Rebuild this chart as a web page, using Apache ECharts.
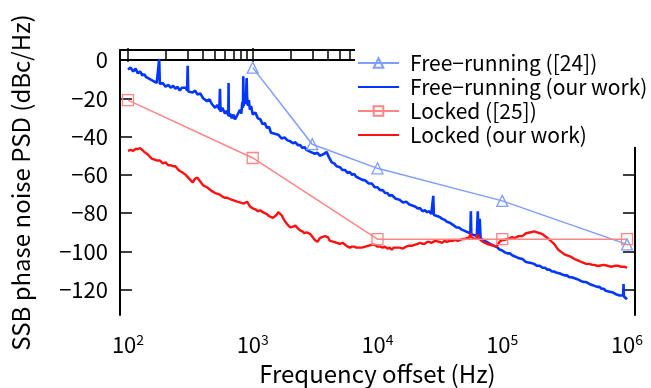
<!DOCTYPE html>
<html>
<head>
<meta charset="utf-8">
<script src="https://cdn.jsdelivr.net/npm/echarts@6/dist/echarts.min.js"></script>
<style>
  html, body { margin: 0; padding: 0; background: #fff; }
  #chart { width: 651px; height: 388px; }
</style>
</head>
<body>
<div id="chart"></div>
<script>
// tick positions
const decadeTicks = [100, 1000, 10000, 100000, 1000000]
const minorTicks = [
  200, 300, 400, 500, 600, 700, 800, 900,
  2000, 3000, 4000, 5000, 6000, 7000, 8000, 9000,
  20000, 30000, 40000, 50000, 60000, 70000, 80000, 90000,
  200000, 300000, 400000, 500000, 600000, 700000, 800000, 900000
]
const yTicks = [-120, -100, -80, -60, -40, -20, 0]

const seriesNames = ['Free\u2212running ([24])', 'Free\u2212running (our work)', 'Locked ([25])', 'Locked (our work)']

// [offset Hz, dBc/Hz]
const freeRunRef = [[1000, -4], [3000, -44], [10000, -56.6], [100000, -73.6], [1000000, -96.3]]
const lockedRef = [[100, -21], [1000, -51.2], [10000, -93.6], [100000, -93.6], [1000000, -93.6]]

const freeRunOurs = [
  [100,-5],[105,-4],[110,-6],[115,-4.5],[120,-7],[125,-6],[130,-8],[135,-7.5],[140,-9],[145,-8],[150,-10],[155,-9.5],
  [160,-11],[165,-10.5],[170,-12],[176,-11.5],[178,0.5],[180,-12.5],[190,-12],[200,-14],[210,-13],[220,-14.5],[230,-13.5],
  [240,-15],[250,-14],[260,-16],[270,-14.5],[280,-15.5],[290,-14.5],[298,-16],[301,-3],[304,-16.5],[315,-15.5],[330,-17],
  [345,-16],[360,-18],[380,-17.5],[400,-20],[415,-19],[430,-21.5],[450,-20.5],[470,-23],[485,-22],[500,-25],[520,-23.5],
  [540,-26],[546,-15],[552,-27],[570,-25],[600,-28],[620,-26.5],[637,-29],[640,-12],[643,-29.5],[660,-28],[680,-30.5],
  [700,-28.5],[720,-31],[750,-29],[770,-30],[790,-26],[810,-28],[825,-22],[835,-25],[840,-8.5],[845,-24],[860,-20],
  [875,-23],[885,-17],[894,-9.5],[900,-19],[915,-24],[930,-21],[950,-26],[970,-24],[1000,-28.5],[1050,-27.5],[1100,-30.5],
  [1150,-31],[1200,-33.5],[1250,-33],[1300,-35.5],[1350,-35],[1400,-38],[1450,-37],[1500,-38.5],[1550,-39.5],[1600,-39],
  [1700,-41],[1800,-40.5],[1900,-42],[2000,-42.5],[2100,-43.5],[2200,-43],[2300,-44.5],[2400,-44.5],[2500,-46],[2600,-45.5],
  [2700,-47],[2800,-46.5],[2900,-48],[3000,-47.5],[3150,-49],[3300,-48.5],[3450,-50],[3600,-49.5],[3750,-49],[3900,-48],
  [4000,-48.5],[4100,-51],[4300,-53.5],[4500,-54],[4700,-55.5],[5000,-56],[5250,-57.5],[5500,-57.5],[5750,-59],[6000,-58.5],
  [6250,-60],[6500,-59.5],[6750,-61],[7000,-60.5],[7500,-62.5],[8000,-63],[8500,-64.5],[9000,-64.5],[9500,-66.5],[10000,-66.5],
  [10500,-68],[11000,-68],[11500,-69.5],[12000,-69.5],[12500,-71],[13000,-70.5],[14000,-72.5],[15000,-73],[16000,-74.5],
  [17000,-74],[18000,-75.5],[19000,-76],[20000,-76.5],[21000,-77.5],[22000,-77.5],[23000,-79],[24000,-78.5],[25000,-79.5],
  [26000,-79],[27000,-80.5],[27700,-80],[28000,-71],[28300,-81],[29000,-80.5],[30000,-81.5],[31500,-82],[33000,-83],
  [34500,-83.5],[36000,-84.5],[38000,-85],[40000,-86],[41500,-86.5],[43000,-87.5],[45000,-87.5],[47000,-88.5],[49000,-89],
  [51000,-89.5],[53000,-90],[55500,-90.5],[56000,-79],[56500,-91],[58000,-90.5],[60000,-91.5],[62500,-92],[63700,-79],
  [64500,-92],[66000,-83],[67000,-93],[68500,-93],[70000,-94],[72500,-94.5],[75000,-95],[77500,-95.5],[80000,-96],
  [82500,-96.5],[85000,-97],[87500,-97],[90000,-97.5],[95000,-99],[100000,-99.5],[105000,-100.5],[110000,-101],[115000,-101],
  [120000,-102],[125000,-102.5],[130000,-103],[135000,-103.5],[140000,-104],[145000,-104],[150000,-104.5],[155000,-105.5],
  [160000,-105.5],[170000,-106],[180000,-106.5],[190000,-107.5],[200000,-107.5],[210000,-108.5],[220000,-108.5],
  [230000,-109.5],[240000,-109.5],[250000,-110.5],[260000,-110.5],[270000,-111],[280000,-111],[290000,-111.5],[300000,-111.5],
  [315000,-112.5],[330000,-112.5],[345000,-113.5],[360000,-113.5],[380000,-114],[400000,-114.5],[415000,-115.5],
  [430000,-115.5],[450000,-116],[470000,-116],[485000,-117],[500000,-117],[525000,-117.5],[550000,-118],[575000,-118.5],
  [600000,-118.5],[625000,-119.5],[650000,-119.5],[675000,-120.5],[700000,-120.5],[725000,-121],[750000,-121],
  [775000,-121.5],[800000,-121.5],[825000,-122.5],[850000,-122.5],[875000,-123],[900000,-123],[930000,-123],[938000,-117],
  [945000,-123.5],[960000,-124],[980000,-124.5],[1000000,-125]
]

const lockedOurs = [
  [100,-47.5],[105,-47],[110,-47.5],[115,-46.5],[120,-46.5],[125,-46],[130,-47],[135,-48],[140,-49],[145,-49.5],[150,-50.5],
  [155,-51.5],[160,-52],[170,-52.5],[180,-52.5],[190,-54],[200,-53.5],[210,-55],[220,-55],[230,-55.5],[240,-55.5],[250,-57],
  [260,-58],[270,-58.5],[280,-59.5],[290,-60],[300,-61],[315,-62.5],[330,-64],[345,-62],[360,-61.5],[380,-63.5],[400,-65.5],
  [430,-66.5],[450,-67.5],[470,-68.5],[500,-69.5],[525,-70],[550,-70.5],[575,-71.5],[600,-72],[625,-72],[650,-72.5],
  [675,-73],[700,-73],[750,-74],[800,-74.5],[850,-75],[900,-74],[925,-74.5],[950,-76.5],[1000,-77.5],[1050,-78],[1100,-79],
  [1150,-78.5],[1200,-79.5],[1250,-80],[1300,-80.5],[1350,-81.5],[1400,-82],[1450,-82.5],[1500,-82.5],[1550,-81],[1600,-79.5],
  [1650,-79],[1700,-81],[1800,-84],[1900,-86],[2000,-87.5],[2100,-87],[2200,-86.5],[2300,-88],[2400,-89],[2500,-89.5],
  [2600,-90.5],[2700,-90],[2800,-90],[2900,-91],[3000,-92],[3150,-94],[3300,-95],[3450,-93],[3600,-92.5],[3800,-92],
  [4000,-92.5],[4150,-94.5],[4300,-95.5],[4500,-95],[4700,-95.5],[5000,-96],[5250,-95.5],[5500,-96.5],[5750,-97.5],
  [6000,-98],[6250,-97.5],[6500,-97.5],[6750,-98],[7000,-97],[7500,-98],[8000,-97.5],[8500,-97],[9000,-96.5],[9500,-96.5],
  [10000,-97.5],[10500,-97.5],[11000,-98],[11500,-97.5],[12000,-98.5],[12500,-98],[13000,-99],[13500,-98],[14000,-98.5],
  [15000,-98],[16000,-98.5],[17000,-97.5],[18000,-97],[19000,-97],[20000,-96.5],[21000,-96],[22000,-95.5],[23000,-96],
  [24000,-96],[25000,-95],[26000,-95],[27000,-95.5],[28000,-95],[29000,-94.5],[30000,-95.5],[31500,-95],[33000,-95.5],
  [34500,-94.5],[36000,-95],[38000,-94.5],[40000,-94.5],[42000,-94],[44000,-94.5],[46000,-94],[48000,-93.5],[50000,-93.5],
  [52000,-93],[54000,-93],[55500,-92.5],[56000,-90.5],[56500,-92.5],[58000,-93.5],[60000,-93.5],[62500,-93],[63700,-91],
  [64500,-93],[67000,-94],[70000,-95],[72500,-95.5],[75000,-96],[77500,-96],[80000,-96.5],[85000,-97],[87500,-97.5],
  [90000,-97.5],[92500,-96.5],[95000,-95],[97500,-94],[100000,-94],[105000,-94],[110000,-93.5],[115000,-93],[120000,-92.5],
  [125000,-93],[130000,-92.5],[135000,-92],[140000,-91.5],[145000,-92],[150000,-91.5],[155000,-90.5],[160000,-90.5],
  [170000,-90],[180000,-89.5],[185000,-89],[190000,-90],[200000,-90.5],[210000,-91],[220000,-92],[230000,-93],[240000,-94],
  [250000,-95],[260000,-96],[270000,-97.5],[280000,-99],[290000,-99.5],[300000,-100.5],[315000,-101.5],[330000,-102],
  [345000,-102.5],[360000,-103],[380000,-104],[400000,-104.5],[415000,-105],[430000,-105.5],[450000,-106],[470000,-106.5],
  [500000,-106.5],[525000,-107],[550000,-107],[575000,-107.5],[600000,-107.5],[650000,-107],[700000,-107.5],[750000,-108],
  [800000,-107.5],[850000,-107.5],[900000,-108],[950000,-108],[1000000,-108.5]
]

const font = '"Noto Sans CJK JP", "Noto Sans", sans-serif'
const xMin = 86.3
const xMax = 1159000
const yMin = -133.2
const yMax = 5.2

const lightBlue = '#7f9dff'
const blue = '#0036ff'
const pink = '#ff8585'
const red = '#ff1010'

// plain line icon for the legend entries without markers
const lineIcon = 'path://M0,0H41V2.2H0Z'

function xAxisPart(position, major, withLabels) {
  return {
    type: 'log',
    position: position,
    min: xMin,
    max: xMax,
    axisLine: { show: major, lineStyle: { color: '#000', width: 2 } },
    axisTick: {
      inside: true,
      length: major ? 12 : 6,
      customValues: major ? decadeTicks : minorTicks,
      lineStyle: { color: '#000', width: 1.5 }
    },
    axisLabel: withLabels ? {
      customValues: decadeTicks,
      margin: 18,
      formatter: v => '{b|10}{s|' + Math.round(Math.log10(v)) + '}',
      rich: {
        b: { fontSize: 22, fontFamily: font, color: '#000' },
        s: { fontSize: 14, fontFamily: font, color: '#000', verticalAlign: 'top', padding: [0, 0, 10, 0] }
      }
    } : { show: false },
    splitLine: { show: false },
    minorTick: { show: false }
  }
}

const chart = echarts.init(document.getElementById('chart'))

chart.setOption({
  animation: false,
  backgroundColor: '#fff',
  grid: { left: 120, right: 16, top: 50, bottom: 73, outerBoundsMode: 'none' },
  legend: {
    orient: 'vertical',
    left: 355,
    top: 40,
    padding: [12, 30, 1, 2],
    backgroundColor: '#fff',
    itemWidth: 41,
    itemHeight: 12,
    itemGap: 2,
    textStyle: { fontSize: 21, fontFamily: font, color: '#000', lineHeight: 22, padding: [0, 0, 0, 6] },
    data: [
      { name: seriesNames[0] },
      { name: seriesNames[1], icon: lineIcon },
      { name: seriesNames[2] },
      { name: seriesNames[3], icon: lineIcon }
    ]
  },
  xAxis: [
    Object.assign(xAxisPart('bottom', true, true), {
      name: 'Frequency offset (Hz)',
      nameLocation: 'middle',
      nameGap: 47,
      nameTextStyle: { fontSize: 24, fontFamily: font, color: '#000' }
    }),
    xAxisPart('bottom', false, false),
    xAxisPart('top', true, false),
    xAxisPart('top', false, false)
  ],
  yAxis: [
    {
      type: 'value',
      position: 'left',
      min: yMin,
      max: yMax,
      name: 'SSB phase noise PSD (dBc/Hz)',
      nameLocation: 'middle',
      nameGap: 87,
      nameTextStyle: { fontSize: 24, fontFamily: font, color: '#000' },
      axisLine: { show: true, lineStyle: { color: '#000', width: 2 } },
      axisTick: { inside: true, length: 12, customValues: yTicks, lineStyle: { color: '#000', width: 1.5 } },
      axisLabel: {
        customValues: yTicks,
        margin: 12,
        fontSize: 22,
        fontFamily: font,
        color: '#000',
        formatter: v => (v < 0 ? '\u2212' + (-v) : '' + v)
      },
      splitLine: { show: false }
    },
    {
      type: 'value',
      position: 'right',
      min: yMin,
      max: yMax,
      axisLine: { show: true, lineStyle: { color: '#000', width: 2 } },
      axisTick: { inside: true, length: 12, customValues: yTicks, lineStyle: { color: '#000', width: 1.5 } },
      axisLabel: { show: false },
      splitLine: { show: false }
    }
  ],
  series: [
    {
      name: seriesNames[0],
      type: 'line',
      data: freeRunRef,
      symbol: 'triangle',
      symbolSize: 11,
      lineStyle: { color: lightBlue, width: 1.5 },
      itemStyle: { color: 'rgba(255,255,255,0)', borderColor: lightBlue, borderWidth: 1.3 },
      z: 3
    },
    {
      name: seriesNames[1],
      type: 'line',
      data: freeRunOurs,
      showSymbol: false,
      symbol: 'none',
      lineStyle: { color: blue, width: 2.6 },
      itemStyle: { color: blue },
      z: 2
    },
    {
      name: seriesNames[2],
      type: 'line',
      data: lockedRef,
      symbol: 'rect',
      symbolSize: 11,
      lineStyle: { color: pink, width: 1.5 },
      itemStyle: { color: 'rgba(255,255,255,0)', borderColor: pink, borderWidth: 1.3 },
      z: 3
    },
    {
      name: seriesNames[3],
      type: 'line',
      data: lockedOurs,
      showSymbol: false,
      symbol: 'none',
      lineStyle: { color: red, width: 2.4 },
      itemStyle: { color: red },
      z: 2
    }
  ]
})
</script>
</body>
</html>
